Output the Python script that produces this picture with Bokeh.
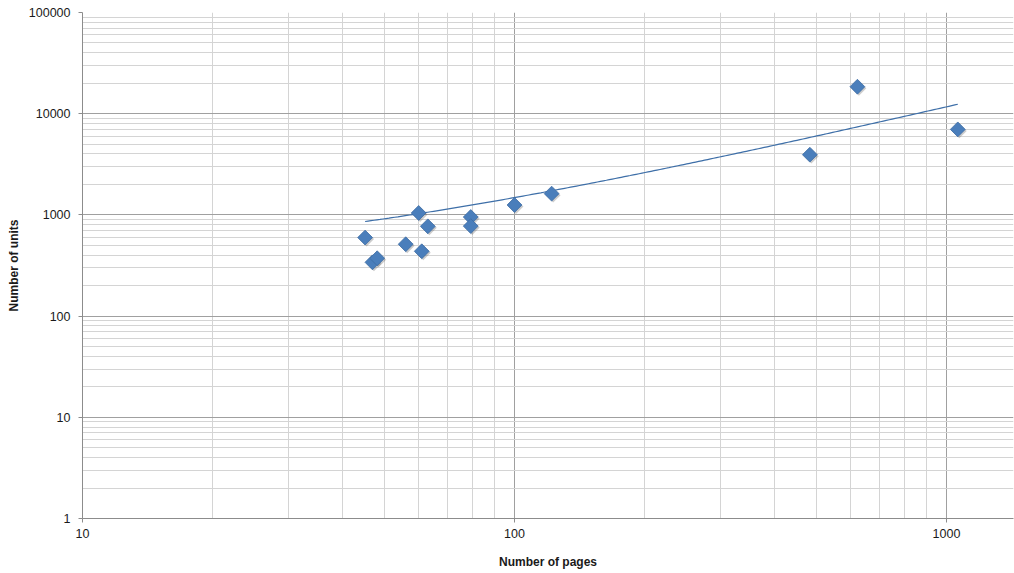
import numpy as np
from bokeh.plotting import figure
from bokeh.models import FixedTicker, Range1d
from bokeh.embed import file_html
from bokeh.resources import INLINE

# Pages per title vs. units sold
pages = [45.1, 46.9, 48.1, 56.0, 60.0, 61.0, 63.0, 79.2, 79.2, 100.0, 121.9, 482.7, 622.0, 1062.0]
units = [597, 340, 373, 513, 1045, 437, 771, 953, 775, 1253, 1622, 3935, 18470, 6999]

x_major = [10, 100, 1000]
y_major = [1, 10, 100, 1000, 10000, 100000]

x_arr = np.array(pages)
y_arr = np.array(units)

# linear least-squares trendline, shown on log-log axes
slope, intercept = np.polyfit(x_arr, y_arr, 1)
trend_x = np.geomspace(x_arr.min(), x_arr.max(), 200)
trend_y = intercept + slope * trend_x

# minor ticks at 2..9 within each decade
x_minor = [m * 10 ** e for e in range(1, 4) for m in range(2, 10)]
y_minor = [m * 10 ** e for e in range(0, 5) for m in range(2, 10)]

x_end = 10 ** (1 + 931 / 432)

p = figure(width=1014, height=573, x_axis_type="log", y_axis_type="log",
           x_range=Range1d(10, x_end), y_range=Range1d(1, 100000),
           output_backend="svg", toolbar_location=None,
           min_border_left=82, min_border_right=1, min_border_top=12, min_border_bottom=55)
p.outline_line_color = None
p.background_fill_color = "white"
p.border_fill_color = "white"

p.xaxis.ticker = FixedTicker(ticks=x_major, minor_ticks=x_minor)
p.yaxis.ticker = FixedTicker(ticks=y_major, minor_ticks=y_minor)
p.xaxis.major_label_overrides = {v: str(v) for v in x_major}
p.yaxis.major_label_overrides = {v: str(v) for v in y_major}

for ax in (p.xaxis, p.yaxis):
    ax.axis_line_color = "#8c8c8c"
    ax.axis_line_width = 1
    ax.major_tick_line_color = "#8c8c8c"
    ax.major_tick_out = 4
    ax.major_tick_in = 0
    ax.minor_tick_out = 0
    ax.minor_tick_in = 0
    ax.major_label_text_font = "Liberation Sans"
    ax.major_label_text_font_size = "12.5px"
    ax.major_label_text_color = "#1a1a1a"
    ax.axis_label_text_font = "Liberation Sans"
    ax.axis_label_text_font_style = "bold"
    ax.axis_label_text_font_size = "12px"
    ax.axis_label_text_color = "#1a1a1a"

p.xaxis.axis_label = "Number of pages"
p.yaxis.axis_label = "Number of units"
p.xaxis.major_label_standoff = 6
p.xaxis.axis_label_standoff = 14
p.yaxis.major_label_standoff = 8
p.yaxis.axis_label_standoff = 5

for g in (p.xgrid, p.ygrid):
    g.grid_line_color = "#a0a0a0"
    g.grid_line_width = 1
    g.minor_grid_line_color = "#d4d4d4"
    g.minor_grid_line_width = 1

# trendline
p.line(trend_x, trend_y, line_color="#3e6fa8", line_width=1.2)

# soft drop shadow under each marker
sx = x_arr * 10 ** (1.5 / 432)
sy = y_arr * 10 ** (-1.5 / 101.3)
p.scatter(sx, sy, marker="square", angle=np.pi / 4, size=10.5,
          fill_color="#555555", fill_alpha=0.3, line_color=None)

# data points
p.scatter(x_arr, y_arr, marker="square", angle=np.pi / 4, size=10.5,
          fill_color="#4a7ebb", line_color="#3d6ca3", line_width=0.8)

open("out.html", "w").write(file_html(p, INLINE))
